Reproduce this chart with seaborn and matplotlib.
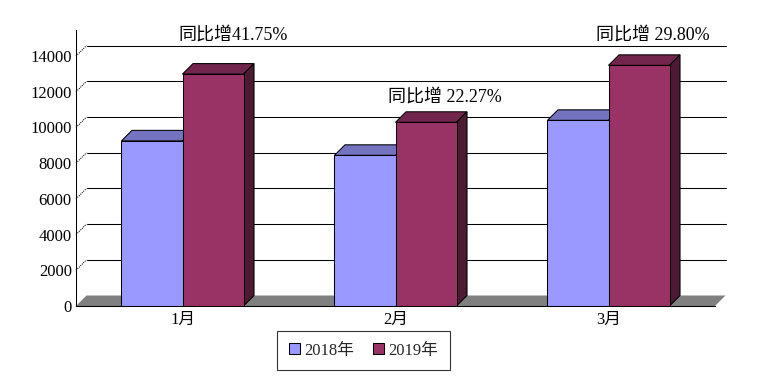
import numpy as np
import pandas as pd
import matplotlib
matplotlib.use("Agg")
import matplotlib.pyplot as plt
from matplotlib.patches import Polygon, Patch
import seaborn as sns

# ---- data ----
months = ["1月", "2月", "3月"]
years = ["2018年", "2019年"]
v2018 = [9250, 8440, 10400]
v2019 = [12990, 10290, 13480]
growth_labels = ["同比增41.75%", "同比增 22.27%", "同比增 29.80%"]
yticks = [0, 2000, 4000, 6000, 8000, 10000, 12000, 14000]

front_colors = ["#9999FF", "#993366"]
top_colors = ["#7373BF", "#73264D"]
side_colors = ["#4D4D80", "#4D1A33"]

sns.set_style("white")
plt.rcParams["font.family"] = ["Liberation Serif", "Noto Sans CJK SC"]

df = pd.DataFrame({
    "月份": months * 2,
    "年份": [years[0]] * 3 + [years[1]] * 3,
    "数值": v2018 + v2019,
})

W, H = 759, 379
fig = plt.figure(figsize=(W / 100, H / 100), dpi=100)
ax = fig.add_axes([76 / W, 73 / H, 639 / W, 276 / H])

sns.barplot(data=df, x="月份", y="数值", hue="年份", palette=front_colors,
            width=0.573, edgecolor="black", linewidth=0.75, saturation=1,
            ax=ax, legend=False, errorbar=None)
ax.set_xlim(-0.5, 2.5)
ax.set_ylim(0, 15460)
ax.set_xlabel("")
ax.set_ylabel("")

# depth offset (pixels -> data)
dx_px, dy_px = 10.5, 10.5
inv = ax.transData.inverted()
p0 = inv.transform((0, 0))
p1 = inv.transform((dx_px, dy_px))
ddx, ddy = p1 - p0

# floor
floor = Polygon([(-0.5, 0), (2.5, 0), (2.5 + ddx, ddy), (-0.5 + ddx, ddy)],
                closed=True, facecolor="#808080", edgecolor="none",
                zorder=1, clip_on=False)
ax.add_patch(floor)

# back-wall gridlines and connectors
for v in yticks[1:]:
    ax.plot([-0.5 + ddx, 2.5 + ddx], [v + ddy, v + ddy], color="black",
            lw=0.75, zorder=1.2, clip_on=False)
    ax.plot([-0.5, -0.5 + ddx], [v, v + ddy], color="black", lw=0.75,
            ls=(0, (1, 1)), zorder=1.2, clip_on=False)

# 3D faces for bars
bars = [p for p in ax.patches if p is not floor]
n = len(months)
for i, p in enumerate(bars):
    k = i // n
    x0, w, h = p.get_x(), p.get_width(), p.get_height()
    base_z = 3 + 2 * k
    p.set_zorder(base_z + 1)
    top = Polygon([(x0, h), (x0 + w, h), (x0 + w + ddx, h + ddy), (x0 + ddx, h + ddy)],
                  closed=True, facecolor=top_colors[k], edgecolor="black",
                  lw=0.75, zorder=base_z, clip_on=False)
    side = Polygon([(x0 + w, 0), (x0 + w + ddx, ddy), (x0 + w + ddx, h + ddy), (x0 + w, h)],
                   closed=True, facecolor=side_colors[k], edgecolor="black",
                   lw=0.75, zorder=base_z, clip_on=False)
    ax.add_patch(top)
    ax.add_patch(side)

# growth annotations
ann_pos = [(0.237, 15150), (1.232, 11677), (2.209, 15178)]
for (x, y), t in zip(ann_pos, growth_labels):
    ax.text(x, y, t, ha="center", va="center", fontsize=13, color="black",
            clip_on=False)

# axes styling
for s in ["top", "right"]:
    ax.spines[s].set_visible(False)
for s in ["left", "bottom"]:
    ax.spines[s].set_color("black")
    ax.spines[s].set_linewidth(0.75)
    ax.spines[s].set_zorder(8)
ax.set_yticks(yticks)
ax.set_yticklabels([str(v) for v in yticks])
ax.tick_params(axis="y", length=0, pad=3, labelsize=12, colors="black")
ax.tick_params(axis="x", which="major", length=0, pad=4, labelsize=12, colors="black")
ax.set_xticks([-0.5, 0.5, 1.5, 2.5], minor=True)
ax.tick_params(axis="x", which="minor", direction="in", length=5, width=0.75,
               color="black")
ax.grid(False)

# legend
handles = [Patch(facecolor=c, edgecolor="black", linewidth=0.75) for c in front_colors]
leg = fig.legend(handles, years, loc="center", bbox_to_anchor=(363.5 / W, 1 - 350.5 / H),
                 ncol=2, fontsize=12, frameon=True, fancybox=False,
                 handlelength=0.66, handleheight=0.66, handletextpad=0.3,
                 columnspacing=1.1, borderpad=0.7)
leg.get_frame().set_edgecolor("black")
leg.get_frame().set_linewidth(0.8)

fig.savefig("out.png", dpi=100)
